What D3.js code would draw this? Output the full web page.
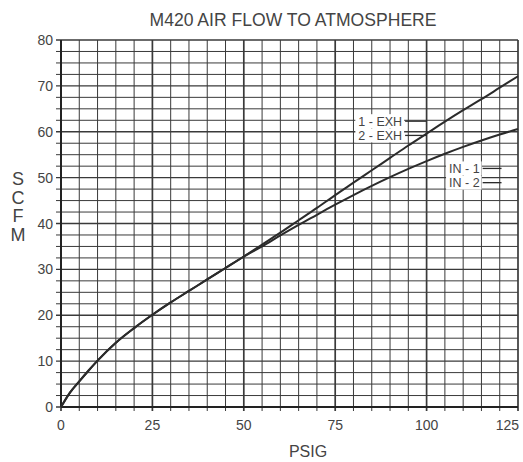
<!DOCTYPE html>
<html>
<head>
<meta charset="utf-8">
<script src="https://cdn.jsdelivr.net/npm/d3@7"></script>
<style>
  body { margin: 0; background: #fff; }
  svg { display: block; }
  text { font-family: "Liberation Sans", Arial, sans-serif; fill: #444; }
</style>
</head>
<body>
<svg id="chart" width="523" height="462"></svg>
<script>
// pressure (PSIG) and flow (SCFM)
const psig     = [0, 2.5, 5, 7.5, 10, 15, 20, 25, 30, 35, 40, 45, 50, 55, 60, 65, 70, 75, 80, 85, 90, 95, 100, 105, 110, 115, 120, 125];
const exhScfm  = [0, 3.2, 5.6, 7.9, 10.1, 14.0, 17.2, 20.1, 22.8, 25.3, 27.8, 30.3, 32.8, 35.4, 38.0, 40.7, 43.4, 46.2, 48.9, 51.6, 54.3, 57.0, 59.6, 62.2, 64.7, 67.1, 69.6, 72.1];
const inScfm   = [0, 3.2, 5.6, 7.9, 10.1, 14.0, 17.2, 20.1, 22.8, 25.3, 27.8, 30.3, 32.8, 35.0, 37.4, 39.7, 41.9, 44.1, 46.2, 48.2, 50.1, 51.9, 53.6, 55.2, 56.7, 58.1, 59.4, 60.6];

const xTicks = [0, 25, 50, 75, 100, 125];
const yTicks = [0, 10, 20, 30, 40, 50, 60, 70, 80];

const svg = d3.select("#chart");
const pLeft = 61, pRight = 518, pTop = 40, pBottom = 407;

const x = d3.scaleLinear().domain([0, 125]).range([pLeft, pRight]);
const y = d3.scaleLinear().domain([0, 80]).range([pBottom, pTop]);

// grid: every 5 psig, every 2.5 scfm
const grid = svg.append("g").attr("stroke", "#3a3a3a");
d3.range(0, 125.01, 5).forEach(v => {
    grid.append("line")
        .attr("x1", x(v)).attr("x2", x(v))
        .attr("y1", pTop).attr("y2", pBottom + 4)
        .attr("stroke-width", v % 25 === 0 ? 1.7 : 1);
});
d3.range(0, 80.01, 2.5).forEach(v => {
    grid.append("line")
        .attr("x1", pLeft - 5).attr("x2", pRight)
        .attr("y1", y(v)).attr("y2", y(v))
        .attr("stroke-width", v % 10 === 0 ? 1.4 : 1);
});

// heavier frame on the axes
svg.append("line").attr("x1", pLeft).attr("x2", pLeft).attr("y1", pTop).attr("y2", pBottom)
    .attr("stroke", "#222").attr("stroke-width", 2);
svg.append("line").attr("x1", pLeft).attr("x2", pRight).attr("y1", pBottom).attr("y2", pBottom)
    .attr("stroke", "#222").attr("stroke-width", 2);

// tick labels (last one pulled inside the page edge)
svg.append("g").selectAll("text").data(xTicks).join("text")
    .attr("x", (d, i) => i === xTicks.length - 1 ? x(d) + 1 : x(d))
    .attr("y", 430)
    .attr("text-anchor", (d, i) => i === xTicks.length - 1 ? "end" : "middle")
    .attr("font-size", 14)
    .text(d => d);
svg.append("g").selectAll("text").data(yTicks).join("text")
    .attr("x", 53).attr("y", d => y(d) + 5)
    .attr("text-anchor", "end").attr("font-size", 14)
    .text(d => d);

// curves
const line = d3.line().x(d => x(d[0])).y(d => y(d[1])).curve(d3.curveMonotoneX);
[exhScfm, inScfm].forEach(series => {
    svg.append("path")
        .datum(psig.map((p, i) => [p, series[i]]))
        .attr("d", line)
        .attr("fill", "none")
        .attr("stroke", "#2b2b2b")
        .attr("stroke-width", 2);
});

// curve labels with a white patch and leader
const labels = [
    { text: "1 - EXH", px: 93.3, v: 62.3, lead: 100 },
    { text: "2 - EXH", px: 93.3, v: 59.2, lead: 100 },
    { text: "IN - 1", px: 114.5, v: 52.0, lead: 120.5 },
    { text: "IN - 2", px: 114.5, v: 48.9, lead: 120.5 }
];
const patches = svg.append("g");
const lab = svg.append("g");
labels.forEach(d => {
    const t = lab.append("text")
        .attr("x", x(d.px)).attr("y", y(d.v) + 4.5)
        .attr("text-anchor", "end").attr("font-size", 12.5)
        .attr("fill", "#333")
        .text(d.text);
    const b = t.node().getBBox();
    patches.append("rect")
        .attr("x", b.x - 3).attr("y", y(d.v) - 7)
        .attr("width", b.width + 5).attr("height", 14)
        .attr("fill", "#fff");
    patches.append("line")
        .attr("x1", b.x + b.width + 3).attr("x2", x(d.lead))
        .attr("y1", y(d.v)).attr("y2", y(d.v))
        .attr("stroke", "#2b2b2b").attr("stroke-width", 1.3);
});

// titles
svg.append("text")
    .attr("x", 293).attr("y", 26)
    .attr("text-anchor", "middle").attr("font-size", 18)
    .attr("textLength", 287).attr("lengthAdjust", "spacingAndGlyphs")
    .text("M420 AIR FLOW TO ATMOSPHERE");

svg.append("text")
    .attr("x", 308).attr("y", 457)
    .attr("text-anchor", "middle").attr("font-size", 16)
    .text("PSIG");

svg.append("g").selectAll("text").data(["S", "C", "F", "M"]).join("text")
    .attr("x", 18).attr("y", (d, i) => 185 + i * 18.6)
    .attr("text-anchor", "middle").attr("font-size", 18)
    .text(d => d);
</script>
</body>
</html>
